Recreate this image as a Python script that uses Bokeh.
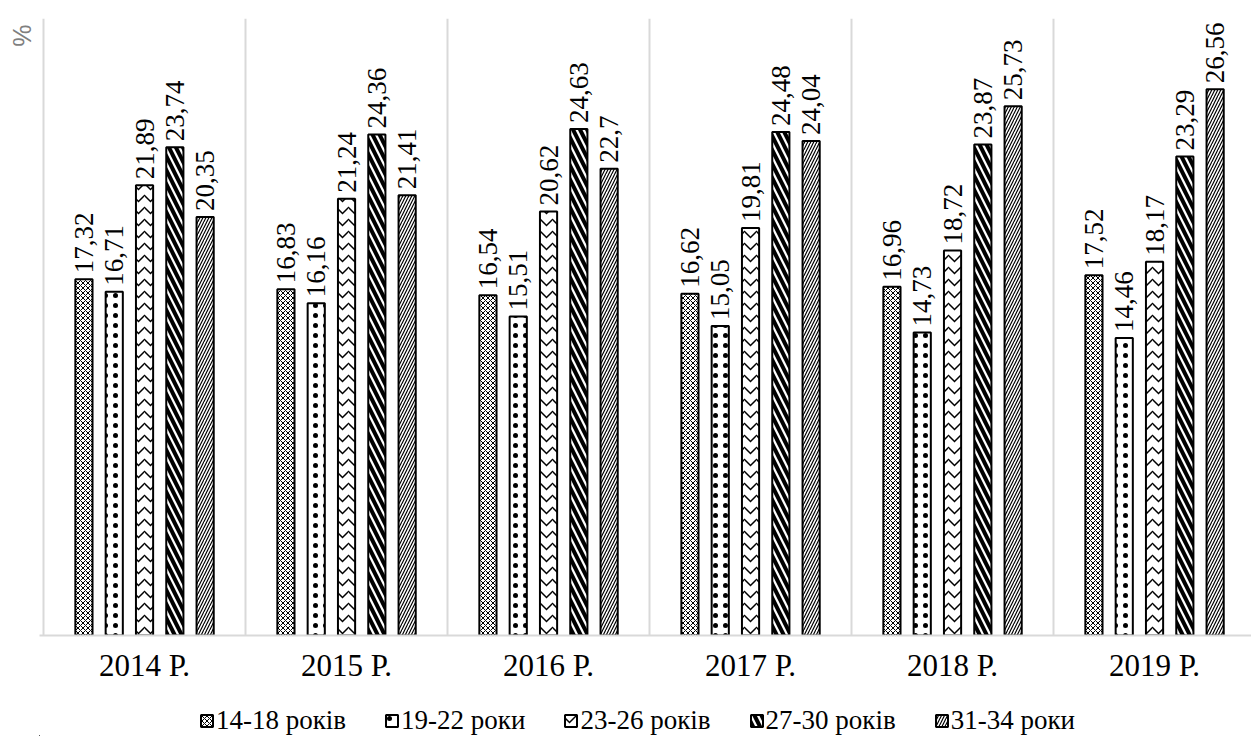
import numpy as np
from bokeh.plotting import figure
from bokeh.layouts import column
from bokeh.models import (ColumnDataSource, FixedTicker, Legend, LegendItem, Title, Range1d)
from bokeh.core.properties import value
from bokeh.embed import file_html
from bokeh.resources import INLINE

years = ["2014 Р.", "2015 Р.", "2016 Р.", "2017 Р.", "2018 Р.", "2019 Р."]
groups = ["14-18 років", "19-22 роки", "23-26 років", "27-30 років", "31-34 роки"]
v_14_18 = [17.32, 16.83, 16.54, 16.62, 16.96, 17.52]
v_19_22 = [16.71, 16.16, 15.51, 15.05, 14.73, 14.46]
v_23_26 = [21.89, 21.24, 20.62, 19.81, 18.72, 18.17]
v_27_30 = [23.74, 24.36, 24.63, 24.48, 23.87, 23.29]
v_31_34 = [20.35, 21.41, 22.7, 24.04, 25.73, 26.56]
series = [v_14_18, v_19_22, v_23_26, v_27_30, v_31_34]

offsets = [-0.30, -0.15, 0.0, 0.15, 0.30]
hatches = [dict(hatch_pattern="x", hatch_scale=5, hatch_weight=1),
           dict(hatch_pattern=".", hatch_scale=10, hatch_weight=8),
           dict(hatch_pattern="v", hatch_scale=12, hatch_weight=1.5),
           dict(hatch_pattern="\\", hatch_scale=14, hatch_weight=4),
           dict(hatch_pattern="/", hatch_scale=6, hatch_weight=1.2)]
bar_style = dict(fill_color="white", line_color="black", line_width=2, hatch_color="black")

SERIF = "Liberation Serif"

p = figure(width=1251, height=690, output_backend="svg", toolbar_location=None,
           x_range=Range1d(-0.02, 5.98), y_range=Range1d(0, 30),
           min_border_left=39, min_border_right=0, min_border_top=18, min_border_bottom=55)
p.outline_line_color = None
p.background_fill_color = "white"
p.yaxis.visible = False
p.ygrid.grid_line_color = None
p.xgrid.ticker = FixedTicker(ticks=[0, 1, 2, 3, 4, 5, 6])
p.xgrid.grid_line_color = "#d9d9d9"
p.xgrid.grid_line_width = 2

p.add_layout(Title(text="%", align="right", text_font="Liberation Sans",
                   text_font_size="25px", text_font_style="normal",
                   text_color="#7f7f7f", standoff=8, offset=6), "left")

p.xaxis.ticker = FixedTicker(ticks=[i + 0.5 for i in range(len(years))])
p.xaxis.major_label_overrides = {i + 0.5: y for i, y in enumerate(years)}
p.xaxis.major_label_text_font = SERIF
p.xaxis.major_label_text_font_size = "31px"
p.xaxis.major_label_text_color = "black"
p.xaxis.major_label_standoff = 6
p.xaxis.major_tick_line_color = None
p.xaxis.minor_tick_line_color = None
p.xaxis.axis_line_color = "#d9d9d9"
p.xaxis.axis_line_width = 2

base = np.arange(len(years)) + 0.5
for name, vals, off, h in zip(groups, series, offsets, hatches):
    src = ColumnDataSource(dict(x=base + off, top=vals,
                                lab=[str(v).replace(".", ",") for v in vals]))
    p.vbar(x="x", top="top", width=0.085, source=src, **bar_style, **h)
    p.text(x="x", y="top", text="lab", source=src, angle=np.pi / 2,
           text_align="left", text_baseline="middle", y_offset=-6,
           text_font=value(SERIF), text_font_size="27px", text_color="black")

# legend strip below the chart (legend swatches come from off-screen proxy bars)
lg = figure(width=1251, height=46, output_backend="svg", toolbar_location=None,
            x_range=Range1d(0, 1), y_range=Range1d(0, 1),
            min_border_left=0, min_border_right=0, min_border_top=0, min_border_bottom=0)
lg.outline_line_color = None
lg.axis.visible = False
lg.grid.grid_line_color = None
items = []
for name, h in zip(groups, hatches):
    r = lg.vbar(x=[-100], top=[-100], bottom=[-101], width=0.1, **bar_style, **h)
    items.append(LegendItem(label=name, renderers=[r]))
legend = Legend(items=items, orientation="horizontal", location=(160, 0),
                label_text_font=SERIF, label_text_font_size="27px", label_text_color="black",
                glyph_width=15, glyph_height=15, spacing=38, label_standoff=2,
                border_line_color=None, background_fill_alpha=0, margin=0, padding=3)
lg.add_layout(legend)

layout = column(p, lg, spacing=0)
open("out.html", "w").write(file_html(layout, INLINE))
